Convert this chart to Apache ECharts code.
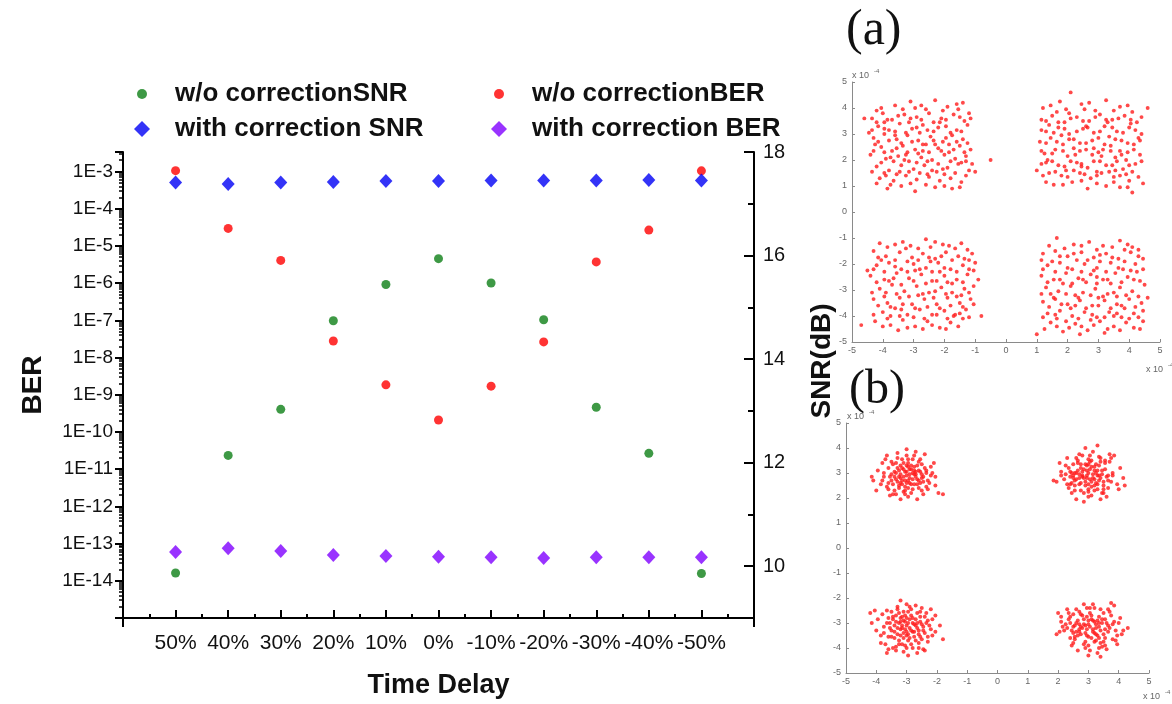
<!DOCTYPE html>
<html>
<head>
<meta charset="utf-8">
<title>BER / SNR versus time delay</title>
<script src="https://cdn.jsdelivr.net/npm/echarts@6/dist/echarts.min.js"></script>
<style>
  html, body { margin: 0; padding: 0; background: #ffffff; }
  #chart { width: 1172px; height: 704px; }
</style>
</head>
<body>
<div id="chart"></div>
<script>
// ---- main plot data ----
const delays = ['50%', '40%', '30%', '20%', '10%', '0%', '-10%', '-20%', '-30%', '-40%', '-50%'];
const snrNoCorrection = [9.87, 12.14, 13.03, 14.74, 15.44, 15.94, 15.47, 14.76, 13.07, 12.18, 9.86];
const berNoCorrection = [1.05e-3, 2.95e-5, 4.07e-6, 2.77e-8, 1.84e-9, 2.09e-10, 1.7e-9, 2.63e-8, 3.7e-6, 2.66e-5, 1.04e-3];
const snrWithCorrection = [17.41, 17.38, 17.41, 17.42, 17.44, 17.44, 17.45, 17.45, 17.45, 17.46, 17.45];
const berWithCorrection = [5.9e-14, 7.5e-14, 6.3e-14, 4.9e-14, 4.6e-14, 4.4e-14, 4.3e-14, 4.1e-14, 4.3e-14, 4.3e-14, 4.3e-14];

// ---- axis ticks ----
const snrMajorTicks = [10, 12, 14, 16, 18];
const snrMinorTicks = [11, 13, 15, 17];
const delayTickPos = [1, 2, 3, 4, 5, 6, 7, 8, 9, 10, 11];
const delayHalfTicks = [0.5, 1.5, 2.5, 3.5, 4.5, 5.5, 6.5, 7.5, 8.5, 9.5, 10.5, 11.5];
const berMin = 1e-15;
const berMax = 3.33e-3;

// ---- constellation (a): without correction, units of 1e-4 ----
const constA_q1 = [[-4.2,3.9],[-3.6,4.1],[-3.1,4.25],[-2.6,3.95],[-2.3,4.3],[-1.9,4.05],[-1.4,4.2],[-1.2,3.8],
  [-4.35,3.6],[-4.0,3.8],[-3.7,3.55],[-3.3,3.75],[-2.9,3.65],[-2.5,3.8],[-2.1,3.6],[-1.7,3.75],[-1.35,3.5],
  [-4.15,3.3],[-3.8,3.15],[-3.45,3.4],[-3.05,3.2],[-2.7,3.35],[-2.35,3.1],[-1.95,3.3],[-1.6,3.15],[-1.25,3.35],
  [-4.3,2.85],[-3.95,3.0],[-3.55,2.8],[-3.2,2.95],[-2.85,2.75],[-2.45,2.9],[-2.05,2.7],[-1.75,2.95],[-1.4,2.8],
  [-4.05,2.5],[-3.7,2.35],[-3.35,2.55],[-2.95,2.4],[-2.6,2.6],[-2.2,2.45],[-1.85,2.3],[-1.5,2.55],[-1.15,2.4],
  [-4.4,2.2],[-3.9,2.05],[-3.5,2.15],[-3.15,1.95],[-2.75,2.1],[-2.4,2.0],[-2.0,2.2],[-1.65,2.05],[-1.3,1.95],
  [-4.2,1.75],[-3.8,1.6],[-3.4,1.8],[-3.0,1.65],[-2.65,1.8],[-2.25,1.55],[-1.9,1.7],[-1.55,1.85],[-1.2,1.6],
  [-4.1,1.3],[-3.65,1.2],[-3.25,1.4],[-2.9,1.25],[-2.5,1.35],[-2.15,1.2],[-1.8,1.3],[-1.45,1.15],
  [-3.85,0.9],[-3.4,1.0],[-2.95,0.8],[-2.3,0.95],[-1.75,0.9],
  [-3.95,3.45],[-3.6,2.95],[-3.25,2.2],[-2.8,3.05],[-2.55,1.45],[-2.15,3.45],[-1.85,2.6],[-3.45,1.55],[-4.25,2.6],
  [-1.55,3.95],[-2.7,2.35],[-3.1,3.6],[-2.0,1.45],[-3.75,2.1],[-1.3,2.15],[-2.35,2.75],[-3.9,1.4],[-2.95,4.0],
  [-4.6,3.6],[-0.5,2.0],[-1.0,1.55],[-4.45,3.05],
  [-4.05,4.0],[-3.35,3.95],[-2.75,4.1],[-2.05,3.9],[-1.6,4.15],
  [-4.2,3.45],[-3.85,3.55],[-3.5,3.7],[-3.15,3.45],[-2.75,3.55],[-2.35,3.45],[-1.95,3.55],[-1.5,3.65],[-1.15,3.6],
  [-4.35,3.15],[-3.95,3.2],[-3.6,3.1],[-3.25,3.05],[-2.9,3.25],[-2.55,3.15],[-2.2,3.25],[-1.8,3.05],[-1.45,3.1],
  [-4.15,2.7],[-3.8,2.75],[-3.4,2.65],[-3.05,2.7],[-2.7,2.6],[-2.3,2.6],[-1.95,2.85],[-1.6,2.7],[-1.25,2.65],
  [-4.3,2.35],[-3.95,2.3],[-3.55,2.45],[-3.2,2.3],[-2.85,2.25],[-2.5,2.3],[-2.1,2.35],[-1.7,2.4],[-1.35,2.3],
  [-4.05,1.9],[-3.65,1.95],[-3.3,2.0],[-2.9,1.9],[-2.55,1.95],[-2.2,1.85],[-1.8,1.95],[-1.45,1.9],[-1.1,1.85],
  [-4.35,1.55],[-3.95,1.5],[-3.55,1.45],[-3.15,1.55],[-2.8,1.5],[-2.4,1.6],[-2.05,1.65],[-1.65,1.5],[-1.3,1.4],
  [-4.2,1.1],[-3.75,1.05],[-3.1,1.1],[-2.6,1.05],[-2.0,1.0],[-1.5,0.95]];
const constA_q2 = [[1.2,4.0],[1.65,3.85],[2.1,4.6],[2.45,4.15],[2.9,3.9],[3.25,4.3],[3.7,4.05],[4.1,3.85],[4.6,4.0],
  [1.15,3.55],[1.5,3.7],[1.9,3.45],[2.3,3.65],[2.7,3.5],[3.05,3.75],[3.45,3.55],[3.85,3.7],[4.25,3.45],
  [1.3,3.1],[1.7,3.25],[2.05,3.0],[2.5,3.2],[2.85,3.05],[3.2,3.3],[3.6,3.1],[4.0,3.25],[4.4,3.0],
  [1.1,2.7],[1.45,2.85],[1.85,2.6],[2.2,2.8],[2.6,2.65],[3.0,2.85],[3.4,2.55],[3.75,2.75],[4.15,2.6],
  [1.25,2.25],[1.6,2.4],[2.0,2.15],[2.4,2.35],[2.8,2.2],[3.15,2.4],[3.55,2.1],[3.95,2.3],[4.35,2.2],
  [1.15,1.85],[1.5,1.95],[1.9,1.75],[2.3,1.9],[2.65,1.7],[3.05,1.95],[3.45,1.8],[3.8,1.65],[4.2,1.85],
  [1.2,1.4],[1.6,1.55],[2.0,1.35],[2.4,1.5],[2.75,1.3],[3.1,1.5],[3.5,1.35],[3.9,1.45],[4.45,1.1],
  [1.55,1.05],[2.15,1.15],[2.65,0.9],[3.25,1.0],[3.7,0.95],[4.1,0.75],
  [1.4,3.35],[1.8,2.95],[2.2,2.45],[2.55,3.95],[2.95,1.55],[3.35,2.9],[3.7,2.35],[4.05,3.55],[1.35,2.0],
  [2.45,1.75],[3.25,3.55],[1.75,4.25],[3.9,2.0],[2.85,2.45],[2.05,3.8],[3.55,1.6],[4.3,2.85],[1.95,1.6],
  [3.1,2.15],[2.6,3.3],[4.0,1.2],[1.0,1.6],
  [1.45,4.1],[1.95,3.95],[2.7,4.2],[3.5,3.9],[3.95,4.1],
  [1.3,3.5],[1.7,3.45],[2.1,3.6],[2.5,3.5],[2.9,3.65],[3.3,3.45],[3.65,3.6],[4.05,3.4],[4.4,3.65],
  [1.15,3.15],[1.55,3.05],[1.9,3.2],[2.3,3.1],[2.65,3.25],[3.05,3.1],[3.45,3.25],[3.8,3.05],[4.2,3.15],
  [1.3,2.65],[1.65,2.7],[2.05,2.8],[2.4,2.65],[2.8,2.75],[3.2,2.6],[3.55,2.8],[3.95,2.65],[4.35,2.75],
  [1.15,2.35],[1.5,2.25],[1.85,2.35],[2.25,2.2],[2.6,2.4],[3.0,2.3],[3.4,2.35],[3.75,2.2],[4.15,2.4],
  [1.3,1.9],[1.7,1.8],[2.1,1.95],[2.45,1.85],[2.85,1.95],[3.25,1.8],[3.6,1.95],[4.0,1.8],[4.4,1.95],
  [1.4,1.5],[1.8,1.4],[2.2,1.6],[2.55,1.45],[2.95,1.4],[3.35,1.55],[3.7,1.4],[4.1,1.55],[4.3,1.35],
  [1.3,1.15],[1.85,1.05],[2.45,1.2],[2.95,1.1],[3.5,1.15],[3.95,0.95]];
const constA_q3 = [[-4.1,-1.2],[-3.6,-1.25],[-3.1,-1.3],[-2.6,-1.05],[-2.3,-1.15],[-1.85,-1.3],[-1.45,-1.2],
  [-4.3,-1.5],[-3.9,-1.7],[-3.45,-1.55],[-3.05,-1.75],[-2.7,-1.6],[-2.3,-1.8],[-1.95,-1.55],[-1.55,-1.7],[-1.2,-1.85],
  [-4.2,-2.05],[-3.8,-1.95],[-3.4,-2.2],[-3.0,-2.0],[-2.6,-2.15],[-2.2,-1.95],[-1.8,-2.2],[-1.4,-2.05],[-1.05,-2.25],
  [-4.4,-2.45],[-3.95,-2.6],[-3.55,-2.35],[-3.15,-2.55],[-2.75,-2.4],[-2.4,-2.65],[-2.0,-2.45],[-1.6,-2.6],[-1.25,-2.4],[-0.9,-2.6],
  [-4.1,-2.95],[-3.7,-2.8],[-3.3,-3.05],[-2.9,-2.85],[-2.5,-3.1],[-2.1,-2.9],[-1.75,-3.1],[-1.35,-2.95],
  [-4.3,-3.35],[-3.85,-3.5],[-3.45,-3.3],[-3.05,-3.55],[-2.65,-3.35],[-2.25,-3.55],[-1.9,-3.3],[-1.5,-3.5],[-1.15,-3.35],
  [-4.0,-3.85],[-3.6,-3.7],[-3.2,-3.95],[-2.8,-3.75],[-2.4,-3.95],[-2.0,-3.8],[-1.65,-3.95],[-1.3,-3.75],
  [-4.25,-4.2],[-3.75,-4.35],[-3.35,-4.15],[-2.95,-4.4],[-2.55,-4.2],[-2.15,-4.45],[-1.8,-4.25],[-1.4,-4.1],
  [-3.5,-4.55],[-2.7,-4.5],[-4.7,-4.35],[-0.8,-4.0],[-4.5,-2.25],[-3.25,-1.4],[-2.05,-1.25],[-3.65,-2.55],[-2.85,-3.2],
  [-2.15,-2.3],[-1.45,-3.2],[-3.9,-3.1],[-2.45,-1.9],[-1.7,-4.0],[-3.0,-4.05],[-4.05,-1.85],[-1.1,-1.6],[-2.3,-3.05],
  [-3.4,-3.75],[-1.9,-2.7],[-2.95,-2.25],[-3.75,-4.0],
  [-3.85,-1.35],[-3.35,-1.15],[-2.85,-1.4],[-2.45,-1.35],[-1.65,-1.4],[-1.25,-1.45],
  [-4.15,-1.75],[-3.6,-1.85],[-3.2,-1.9],[-2.85,-1.85],[-2.5,-1.75],[-2.1,-1.7],[-1.75,-1.85],[-1.35,-1.8],[-1.0,-1.95],
  [-4.3,-2.2],[-3.95,-2.3],[-3.6,-2.1],[-3.2,-2.3],[-2.8,-2.2],[-2.4,-2.3],[-2.0,-2.15],[-1.6,-2.3],[-1.2,-2.2],
  [-4.2,-2.7],[-3.8,-2.65],[-3.4,-2.8],[-3.0,-2.65],[-2.6,-2.75],[-2.25,-2.65],[-1.75,-2.75],[-1.4,-2.7],[-1.05,-2.85],
  [-4.35,-3.1],[-3.95,-3.25],[-3.55,-3.15],[-3.15,-3.25],[-2.7,-3.15],[-2.35,-3.3],[-1.95,-3.15],[-1.6,-3.25],[-1.2,-3.1],
  [-4.15,-3.6],[-3.75,-3.65],[-3.35,-3.55],[-2.95,-3.7],[-2.55,-3.65],[-2.15,-3.7],[-1.8,-3.6],[-1.4,-3.65],[-1.05,-3.55],
  [-4.3,-3.95],[-3.85,-4.1],[-3.45,-4.0],[-2.65,-4.1],[-2.25,-3.95],[-1.9,-4.1],[-1.5,-3.9],[-1.2,-4.05],
  [-4.0,-4.4],[-3.2,-4.45],[-2.4,-4.35],[-1.95,-4.5],[-1.55,-4.4]];
const constA_q4 = [[1.65,-1.0],[2.2,-1.25],[2.7,-1.15],[3.15,-1.3],[3.7,-1.1],[4.1,-1.35],
  [1.2,-1.6],[1.6,-1.5],[2.0,-1.7],[2.45,-1.55],[2.85,-1.75],[3.25,-1.6],[3.65,-1.8],[4.05,-1.55],[4.45,-1.8],
  [1.35,-2.05],[1.75,-1.95],[2.15,-2.2],[2.55,-2.0],[2.95,-2.15],[3.4,-1.95],[3.8,-2.2],[4.2,-2.0],
  [1.15,-2.45],[1.55,-2.6],[1.95,-2.35],[2.35,-2.55],[2.75,-2.4],[3.15,-2.6],[3.55,-2.35],[3.95,-2.5],[4.35,-2.65],
  [1.3,-2.9],[1.7,-3.05],[2.1,-2.85],[2.5,-3.1],[2.9,-2.95],[3.3,-3.15],[3.7,-2.9],[4.1,-3.05],[4.6,-3.3],
  [1.2,-3.45],[1.6,-3.35],[2.0,-3.55],[2.4,-3.4],[2.8,-3.6],[3.2,-3.4],[3.6,-3.55],[4.0,-3.35],[4.4,-3.5],
  [1.35,-3.9],[1.75,-3.8],[2.15,-4.0],[2.55,-3.85],[2.95,-4.05],[3.35,-3.85],[3.75,-4.05],[4.15,-3.9],
  [1.0,-4.7],[1.45,-4.25],[1.85,-4.6],[2.25,-4.3],[2.65,-4.55],[3.05,-4.2],[3.5,-4.4],[3.9,-4.25],[4.35,-4.5],
  [1.5,-1.9],[2.3,-1.85],[3.05,-1.9],[3.85,-1.45],[1.85,-2.75],[2.6,-2.7],[3.4,-2.75],[4.25,-2.3],[1.45,-3.15],
  [2.25,-3.2],[3.0,-3.3],[3.85,-3.7],[1.95,-4.2],[2.75,-4.15],[3.5,-4.0],[4.3,-4.05],[2.1,-3.7],[2.95,-2.5],
  [3.6,-3.25],[1.65,-4.1],[2.4,-4.7],[3.2,-4.65],
  [1.4,-1.3],[1.9,-1.4],[2.45,-1.3],[2.95,-1.45],[3.45,-1.35],[3.95,-1.25],[4.3,-1.45],
  [1.15,-1.85],[1.75,-1.7],[2.2,-1.6],[2.65,-1.85],[3.05,-1.65],[3.45,-1.75],[3.85,-1.9],[4.3,-1.7],
  [1.2,-2.2],[1.6,-2.3],[2.0,-2.15],[2.45,-2.3],[2.85,-2.25],[3.25,-2.3],[3.65,-2.15],[4.05,-2.25],[4.45,-2.2],
  [1.35,-2.7],[1.75,-2.6],[2.15,-2.75],[2.5,-2.6],[2.95,-2.75],[3.3,-2.6],[3.75,-2.7],[4.15,-2.6],[4.5,-2.8],
  [1.15,-3.15],[1.55,-3.3],[1.95,-3.15],[2.35,-3.3],[2.75,-3.2],[3.15,-3.25],[3.5,-3.1],[3.9,-3.2],[4.3,-3.25],
  [1.4,-3.65],[1.8,-3.55],[2.25,-3.6],[2.6,-3.7],[3.0,-3.6],[3.4,-3.7],[3.75,-3.6],[4.2,-3.65],[4.45,-3.8],
  [1.2,-4.05],[1.6,-3.95],[2.35,-4.1],[2.8,-3.95],[3.2,-4.05],[3.6,-3.9],[4.0,-4.1],[4.45,-4.2],
  [1.25,-4.5],[1.65,-4.4],[2.05,-4.45],[2.45,-4.4],[2.85,-4.35],[3.3,-4.5],[3.7,-4.55],[4.15,-4.45]];

// ---- constellation (b): with correction, units of 1e-4 ----
const constB_q1 = [[-3.0,2.9],[-2.8,3.0],[-3.2,2.8],[-2.9,2.6],[-3.1,3.15],[-2.65,2.75],[-3.35,3.0],[-2.75,3.25],
  [-3.05,2.45],[-2.5,2.95],[-3.5,2.7],[-2.95,3.4],[-3.25,2.5],[-2.6,2.4],[-3.6,3.2],[-2.4,3.2],[-3.15,3.55],
  [-2.85,2.2],[-3.75,2.85],[-2.3,2.7],[-3.4,2.3],[-2.55,3.55],[-3.0,3.7],[-3.85,2.55],[-2.15,3.0],[-3.3,3.8],
  [-2.7,3.85],[-3.95,3.1],[-2.05,2.5],[-2.95,2.05],[-3.55,2.1],[-2.45,2.15],[-4.1,2.7],[-1.95,2.2],[-3.2,1.95],
  [-2.4,3.75],[-3.7,3.55],[-4.0,2.3],[-2.1,3.4],[-3.65,2.45],[-2.8,3.55],[-3.45,3.35],[-2.35,2.45],[-3.1,2.25],
  [-2.6,3.1],[-3.3,2.65],[-2.9,2.8],[-3.05,3.05],[-2.75,2.55],[-3.2,3.3],[-2.55,2.6],[-3.4,2.85],[-2.85,3.15],
  [-3.0,2.6],[-2.7,2.95],[-3.15,2.7],[-2.95,3.25],[-3.5,2.95],[-2.45,2.85],[-3.25,3.1],[-1.8,2.15],[-2.65,1.95],
  [-3.8,3.4],[-4.15,2.85],[-2.2,2.9],[-3.35,2.15],[-2.5,3.35],[-3.6,2.6],[-3.0,3.95],[-2.35,3.0],
  [-2.9,2.95],[-3.1,2.85],[-2.8,2.75],[-3.0,3.05],[-2.7,2.85],[-3.2,2.95],[-2.85,2.55],[-3.15,3.2],[-2.6,2.7],
  [-3.35,2.75],[-2.75,3.1],[-3.05,2.7],[-2.95,2.4],[-3.3,3.2],[-2.55,3.05],[-3.45,2.55],[-2.65,3.3],[-3.1,3.4],
  [-2.85,3.3],[-3.25,2.4],[-2.45,2.65],[-3.55,2.85],[-2.35,3.1],[-3.05,2.3],[-2.8,2.35],[-3.4,3.05],[-2.5,2.8],
  [-3.2,2.6],[-2.9,3.15],[-2.75,2.95],[-3.15,2.55],[-2.65,2.55],[-3.35,3.4],[-2.95,3.55],[-3.6,2.35],[-2.3,2.35],
  [-3.5,3.45],[-2.6,3.45],[-3.75,3.0],[-2.25,2.6],[-3.8,2.7],[-3.05,2.15],[-2.5,2.3],[-3.45,2.15],[-2.2,3.25],
  [-3.3,3.6],[-2.75,3.7],[-3.65,3.7],[-2.05,2.85],[-2.95,2.7],[-3.25,2.85],[-2.7,3.05],[-3.0,3.3]];
const constB_q2 = [[3.0,3.0],[2.8,2.85],[3.2,3.1],[2.9,2.65],[3.15,2.8],[2.65,3.1],[3.35,2.9],[2.75,3.35],
  [3.1,2.45],[2.5,2.9],[3.55,3.15],[3.05,3.45],[3.3,2.55],[2.55,2.5],[3.65,2.7],[2.35,3.2],[3.4,3.6],[2.85,2.2],
  [3.8,3.0],[2.2,2.75],[3.5,2.35],[2.6,3.6],[3.15,3.85],[3.95,2.55],[2.1,3.05],[3.7,3.45],[2.9,4.0],[4.05,3.2],
  [1.95,2.65],[3.0,2.05],[3.6,2.05],[2.45,2.2],[4.15,2.8],[2.05,3.4],[2.85,1.85],[3.3,4.1],[3.85,3.7],[4.0,2.35],
  [2.3,3.6],[3.45,2.2],[2.7,3.75],[3.55,3.4],[2.4,2.55],[3.2,2.3],[2.6,3.0],[3.35,2.7],[2.95,2.8],[3.1,3.25],
  [2.75,2.6],[3.25,3.35],[2.55,2.7],[3.45,2.95],[2.85,3.15],[3.0,2.55],[2.7,2.95],[3.2,2.75],[2.95,3.3],[3.5,2.65],
  [2.45,3.0],[3.3,3.1],[1.85,2.7],[2.6,1.95],[3.75,3.6],[4.2,2.5],[2.25,2.95],[3.4,1.95],[2.5,3.35],[3.65,2.9],
  [3.05,3.7],[2.4,2.85],
  [2.95,2.9],[3.15,2.95],[2.85,2.8],[3.05,3.15],[2.7,2.8],[3.25,3.0],[2.9,2.5],[3.2,3.25],[2.6,2.75],
  [3.4,2.8],[2.8,3.05],[3.1,2.65],[3.0,2.35],[3.35,3.3],[2.55,3.0],[3.5,2.5],[2.65,3.4],[3.1,3.5],
  [2.9,3.35],[3.3,2.35],[2.45,2.6],[3.6,2.85],[2.4,3.05],[3.0,2.25],[2.75,2.3],[3.45,3.1],[2.5,2.8],
  [3.25,2.6],[2.95,3.1],[2.8,2.9],[3.2,2.5],[2.7,2.55],[3.4,3.45],[3.0,3.55],[3.65,2.4],[2.35,2.4],
  [3.55,3.5],[2.65,3.5],[3.8,2.9],[2.3,2.55],[3.75,2.65],[3.1,2.1],[2.55,2.3],[3.5,2.2],[2.25,3.3],
  [3.35,3.65],[2.8,3.7],[3.7,3.75],[2.1,2.9],[3.05,2.75],[3.3,2.9],[2.75,3.2],[3.0,3.35]];
const constB_q3 = [[-3.0,-3.1],[-2.8,-3.0],[-3.2,-3.25],[-2.9,-2.85],[-3.1,-3.4],[-2.65,-3.2],[-3.35,-2.95],
  [-2.75,-3.55],[-3.05,-2.7],[-2.5,-3.05],[-3.5,-3.3],[-2.95,-3.7],[-3.25,-2.6],[-2.55,-2.75],[-3.6,-2.8],
  [-2.4,-3.4],[-3.15,-3.85],[-2.85,-2.45],[-3.75,-3.15],[-2.3,-2.9],[-3.4,-3.6],[-2.6,-3.8],[-3.0,-4.0],
  [-3.85,-3.5],[-2.2,-3.25],[-3.3,-2.35],[-2.7,-2.3],[-3.95,-2.85],[-2.05,-2.7],[-2.95,-4.3],[-3.6,-4.05],
  [-2.45,-4.05],[-4.2,-2.6],[-1.8,-3.65],[-3.2,-2.1],[-2.3,-3.75],[-3.7,-3.85],[-4.0,-3.3],[-2.15,-3.5],
  [-3.65,-2.5],[-2.8,-3.35],[-3.45,-2.75],[-2.35,-2.6],[-3.1,-2.9],[-2.6,-3.3],[-3.3,-3.45],[-2.9,-3.2],
  [-3.05,-2.95],[-2.75,-3.05],[-3.2,-2.8],[-2.55,-3.55],[-3.4,-3.1],[-2.85,-2.7],[-3.0,-3.5],[-2.7,-2.85],
  [-3.15,-3.1],[-2.95,-2.55],[-3.55,-3.0],[-2.45,-3.15],[-3.25,-3.7],[-1.9,-3.1],[-2.65,-4.2],[-3.8,-2.65],
  [-4.15,-3.0],[-2.2,-2.45],[-3.35,-4.1],[-2.5,-2.4],[-3.6,-3.55],[-3.0,-2.25],[-2.35,-3.0],[-3.65,-4.2],[-4.05,-2.5],
  [-2.95,-3.0],[-3.15,-3.2],[-2.85,-3.3],[-3.05,-3.25],[-2.7,-3.1],[-3.25,-3.0],[-2.9,-3.6],[-3.2,-2.95],
  [-2.6,-3.45],[-3.4,-3.35],[-2.8,-2.8],[-3.1,-3.6],[-3.0,-2.8],[-3.35,-2.7],[-2.55,-2.95],[-3.5,-3.55],
  [-2.65,-2.6],[-3.1,-2.55],[-2.85,-3.85],[-3.25,-3.85],[-2.45,-3.3],[-3.55,-3.2],[-2.4,-2.75],[-3.05,-3.9],
  [-2.8,-4.0],[-3.45,-2.85],[-2.5,-3.65],[-3.2,-3.5],[-2.95,-3.45],[-2.75,-3.35],[-3.15,-2.75],[-2.65,-3.0],
  [-3.35,-3.95],[-2.9,-2.35],[-3.65,-3.0],[-2.3,-3.55],[-3.5,-2.55],[-2.6,-4.0],[-3.75,-3.4],[-2.25,-3.1],
  [-3.1,-4.15],[-2.55,-2.55],[-3.45,-4.0],[-2.15,-2.85],[-3.85,-3.8],[-2.4,-4.1],[-3.3,-2.45],[-2.05,-3.35],
  [-3.0,-3.35],[-3.3,-3.2],[-2.7,-3.7]];
const constB_q4 = [[3.0,-3.05],[2.8,-3.2],[3.2,-2.95],[2.9,-3.4],[3.15,-3.25],[2.65,-2.9],[3.35,-3.15],
  [2.75,-2.65],[3.1,-3.6],[2.5,-3.15],[3.55,-2.85],[3.05,-2.6],[3.3,-3.5],[2.55,-3.55],[3.65,-3.35],
  [2.35,-2.85],[3.4,-2.45],[2.85,-3.85],[3.8,-3.05],[2.2,-3.3],[3.5,-3.75],[2.6,-2.45],[3.15,-2.25],
  [3.95,-3.5],[2.1,-2.95],[3.7,-2.55],[2.9,-4.0],[4.05,-2.8],[1.95,-3.45],[3.0,-4.3],[3.6,-4.05],
  [2.45,-3.9],[4.15,-3.3],[2.0,-2.6],[2.85,-2.25],[3.3,-4.2],[3.85,-2.3],[3.95,-3.85],[2.3,-2.45],
  [3.45,-3.95],[2.7,-3.05],[3.55,-3.25],[2.4,-3.6],[3.2,-3.75],[2.6,-3.35],[3.35,-2.75],[2.95,-3.25],
  [3.1,-2.85],[2.75,-3.45],[3.25,-3.05],[2.55,-3.1],[3.45,-3.0],[2.85,-2.85],[3.0,-3.55],[2.7,-3.25],
  [3.2,-3.4],[2.95,-2.75],[3.5,-3.45],[2.45,-3.3],[3.3,-2.9],[3.75,-2.2],[2.65,-4.1],[3.8,-3.65],
  [4.3,-3.2],[2.25,-3.05],[3.4,-4.35],[2.5,-2.65],[3.65,-3.1],[3.05,-2.4],[2.4,-3.0],
  [3.05,-3.15],[2.85,-3.05],[3.25,-3.2],[2.95,-3.5],[3.15,-2.9],[2.7,-3.35],[3.4,-3.3],[2.8,-2.7],
  [3.35,-3.6],[2.6,-3.0],[3.6,-3.0],[3.1,-2.7],[3.25,-3.45],[2.5,-3.4],[3.7,-3.2],[2.4,-2.75],[3.5,-2.6],
  [2.9,-3.75],[3.85,-2.95],[2.3,-3.2],[3.55,-3.6],[2.7,-2.55],[3.2,-2.4],[3.9,-3.3],[2.15,-3.15],
  [3.75,-2.7],[3.0,-3.9],[4.0,-3.0],[2.05,-3.35],[3.05,-4.1],[3.55,-3.9],[2.5,-3.8],[4.1,-3.45],
  [2.1,-2.75],[2.95,-2.4],[3.35,-4.0],[3.65,-2.45],[3.9,-3.7],[2.35,-2.6],[3.4,-3.8],[2.75,-3.15],
  [3.45,-2.85],[2.55,-3.65],[3.25,-3.7],[2.65,-3.5],[3.0,-2.9],[3.15,-3.35],[2.9,-3.1],[3.35,-3.0]];
const constTicks = [-5, -4, -3, -2, -1, 0, 1, 2, 3, 4, 5];

// ---- styling constants ----
const SANS = '"Liberation Sans", Arial, Helvetica, sans-serif';
const SERIF = '"Liberation Serif", "Times New Roman", serif';
const GREEN = '#0e7f16';
const RED = '#ff0000';
const BLUE = '#0000f5';
const VIOLET = '#8000ff';
const DOT_RED = '#ff1c1c';
const AXIS_GRAY = '#8a8a8a';

// log-spaced minor ticks of the BER axis, expressed in decades
const berMinorDecades = [];
for (let n = -15; n <= -3; n++) {
  for (let k = 2; k <= 9; k++) {
    const v = n + Math.log10(k);
    if (v < Math.log10(berMax)) berMinorDecades.push(v);
  }
}

const chart = echarts.init(document.getElementById('chart'));

const blackLine = { show: true, onZero: false, lineStyle: { color: '#000', width: 2 } };
const noLine = { show: false, onZero: false };

function constAxis(gridIndex, isX) {
  return {
    type: 'value', gridIndex: gridIndex, min: -5, max: 5, interval: 1,
    position: isX ? 'bottom' : 'left',
    axisLine: { show: true, onZero: false, lineStyle: { color: AXIS_GRAY, width: 1 } },
    axisTick: { show: true, inside: true, length: 3, lineStyle: { color: AXIS_GRAY } },
    axisLabel: { color: '#666', fontSize: 9, fontFamily: SANS, margin: isX ? 4 : 5 },
    splitLine: { show: false }
  };
}

function legendItem(name, left, top, w, h, textPad) {
  return {
    data: [name], left: left, top: top, orient: 'horizontal',
    itemWidth: w, itemHeight: h, selectedMode: false, padding: 0,
    textStyle: { fontFamily: SANS, fontWeight: 'bold', fontSize: 26, color: '#111',
      padding: [0, 0, 0, textPad] }
  };
}

function sup(x, y, base) {
  return [
    { type: 'text', left: x, top: y + 3, style: { text: base, font: '9px ' + SANS, fill: '#666' } },
    { type: 'text', left: x + 22, top: y, style: { text: '-4', font: '6px ' + SANS, fill: '#666' } }
  ];
}

const option = {
  backgroundColor: '#ffffff',
  animation: false,
  grid: [
    { left: 123, top: 152, width: 631, height: 470 },
    { left: 852, top: 82, width: 308, height: 260 },
    { left: 846, top: 423, width: 303, height: 250 }
  ],
  legend: [
    legendItem('w/o correctionSNR', 137, 81, 56, 10, 0),
    legendItem('w/o correctionBER', 494, 81, 56, 10, 0),
    legendItem('with correction SNR', 134, 116, 16, 16, 20),
    legendItem('with correction BER', 491, 116, 16, 16, 20)
  ],
  xAxis: [
    { // category positions, labels and long ticks
      type: 'value', gridIndex: 0, min: 0, max: 12, position: 'bottom',
      name: 'Time Delay', nameLocation: 'middle', nameGap: 54,
      nameTextStyle: { fontFamily: SANS, fontWeight: 'bold', fontSize: 27, color: '#111' },
      axisLine: blackLine,
      axisTick: { show: true, inside: true, length: 8, customValues: delayTickPos, lineStyle: { color: '#000', width: 2 } },
      axisLabel: { customValues: delayTickPos, margin: 15, fontFamily: SANS, fontSize: 21, color: '#111',
        formatter: v => delays[Math.round(v) - 1] || '' },
      splitLine: { show: false }
    },
    { // half-step ticks
      type: 'value', gridIndex: 0, min: 0, max: 12, position: 'bottom',
      axisLine: noLine,
      axisTick: { show: true, inside: true, length: 4, customValues: delayHalfTicks, lineStyle: { color: '#000', width: 2 } },
      axisLabel: { show: false }, splitLine: { show: false }
    },
    { // end ticks below the corners
      type: 'value', gridIndex: 0, min: 0, max: 12, position: 'bottom',
      axisLine: noLine,
      axisTick: { show: true, inside: false, length: 9, customValues: [0, 12], lineStyle: { color: '#000', width: 2 } },
      axisLabel: { show: false }, splitLine: { show: false }
    },
    constAxis(1, true),
    constAxis(2, true)
  ],
  yAxis: [
    { // BER, logarithmic
      type: 'log', logBase: 10, gridIndex: 0, min: berMin, max: berMax, interval: 1, position: 'left',
      name: 'BER', nameLocation: 'middle', nameGap: 76, nameRotate: 90,
      nameTextStyle: { fontFamily: SANS, fontWeight: 'bold', fontSize: 28, color: '#111' },
      axisLine: blackLine,
      axisTick: { show: true, inside: false, length: 8, lineStyle: { color: '#000', width: 2 } },
      axisLabel: { margin: 10, fontFamily: SANS, fontSize: 19, color: '#111',
        formatter: v => {
          const e = Math.log10(v);
          const r = Math.round(e);
          if (Math.abs(e - r) > 1e-6 || r <= -15 || r >= -2) return '';
          return '1E' + r;
        } },
      splitLine: { show: false }
    },
    { // BER minor ticks (2..9 within each decade)
      type: 'value', gridIndex: 0, min: Math.log10(berMin), max: Math.log10(berMax), position: 'left',
      axisLine: noLine,
      axisTick: { show: true, inside: false, length: 4, customValues: berMinorDecades, lineStyle: { color: '#000', width: 1.5 } },
      axisLabel: { show: false }, splitLine: { show: false }
    },
    { // SNR, linear
      type: 'value', gridIndex: 0, min: 9, max: 18, position: 'right',
      axisLine: blackLine,
      axisTick: { show: true, inside: true, length: 10, customValues: snrMajorTicks, lineStyle: { color: '#000', width: 2 } },
      axisLabel: { customValues: snrMajorTicks, margin: 9, fontFamily: SANS, fontSize: 20, color: '#111' },
      splitLine: { show: false }
    },
    { // SNR minor ticks
      type: 'value', gridIndex: 0, min: 9, max: 18, position: 'right',
      axisLine: noLine,
      axisTick: { show: true, inside: true, length: 6, customValues: snrMinorTicks, lineStyle: { color: '#000', width: 2 } },
      axisLabel: { show: false }, splitLine: { show: false }
    },
    constAxis(1, false),
    constAxis(2, false)
  ],
  graphic: [
    { type: 'text', x: 822, y: 361, rotation: Math.PI / 2,
      style: { text: 'SNR(dB)', font: 'bold 28px ' + SANS, fill: '#111', align: 'center', verticalAlign: 'middle' } },
    { type: 'text', left: 846, top: 6, style: { text: '(a)', font: '50px ' + SERIF, fill: '#111' } },
    { type: 'text', left: 849, top: 366, style: { text: '(b)', font: '48px ' + SERIF, fill: '#111' } },
    ...sup(852, 68, 'x 10'),
    ...sup(1146, 362, 'x 10'),
    ...sup(847, 409, 'x 10'),
    ...sup(1143, 689, 'x 10')
  ],
  series: [
    {
      name: 'w/o correctionSNR', type: 'scatter', xAxisIndex: 0, yAxisIndex: 2,
      symbol: 'circle', symbolSize: 9, itemStyle: { color: GREEN },
      data: delays.map((d, i) => [i + 1, snrNoCorrection[i]])
    },
    {
      name: 'w/o correctionBER', type: 'scatter', xAxisIndex: 0, yAxisIndex: 0,
      symbol: 'circle', symbolSize: 9, itemStyle: { color: RED },
      data: delays.map((d, i) => [i + 1, berNoCorrection[i]])
    },
    {
      name: 'with correction SNR', type: 'scatter', xAxisIndex: 0, yAxisIndex: 2,
      symbol: 'diamond', symbolSize: [13, 14], itemStyle: { color: BLUE },
      data: delays.map((d, i) => [i + 1, snrWithCorrection[i]])
    },
    {
      name: 'with correction BER', type: 'scatter', xAxisIndex: 0, yAxisIndex: 0,
      symbol: 'diamond', symbolSize: [13, 14], itemStyle: { color: VIOLET },
      data: delays.map((d, i) => [i + 1, berWithCorrection[i]])
    },
    ...[constA_q1, constA_q2, constA_q3, constA_q4].map(pts => ({
      type: 'scatter', xAxisIndex: 3, yAxisIndex: 4, symbolSize: 3.9,
      itemStyle: { color: DOT_RED }, data: pts, silent: true
    })),
    ...[constB_q1, constB_q2, constB_q3, constB_q4].map(pts => ({
      type: 'scatter', xAxisIndex: 4, yAxisIndex: 5, symbolSize: 4,
      itemStyle: { color: DOT_RED }, data: pts, silent: true
    }))
  ]
};

chart.setOption(option);
</script>
</body>
</html>
